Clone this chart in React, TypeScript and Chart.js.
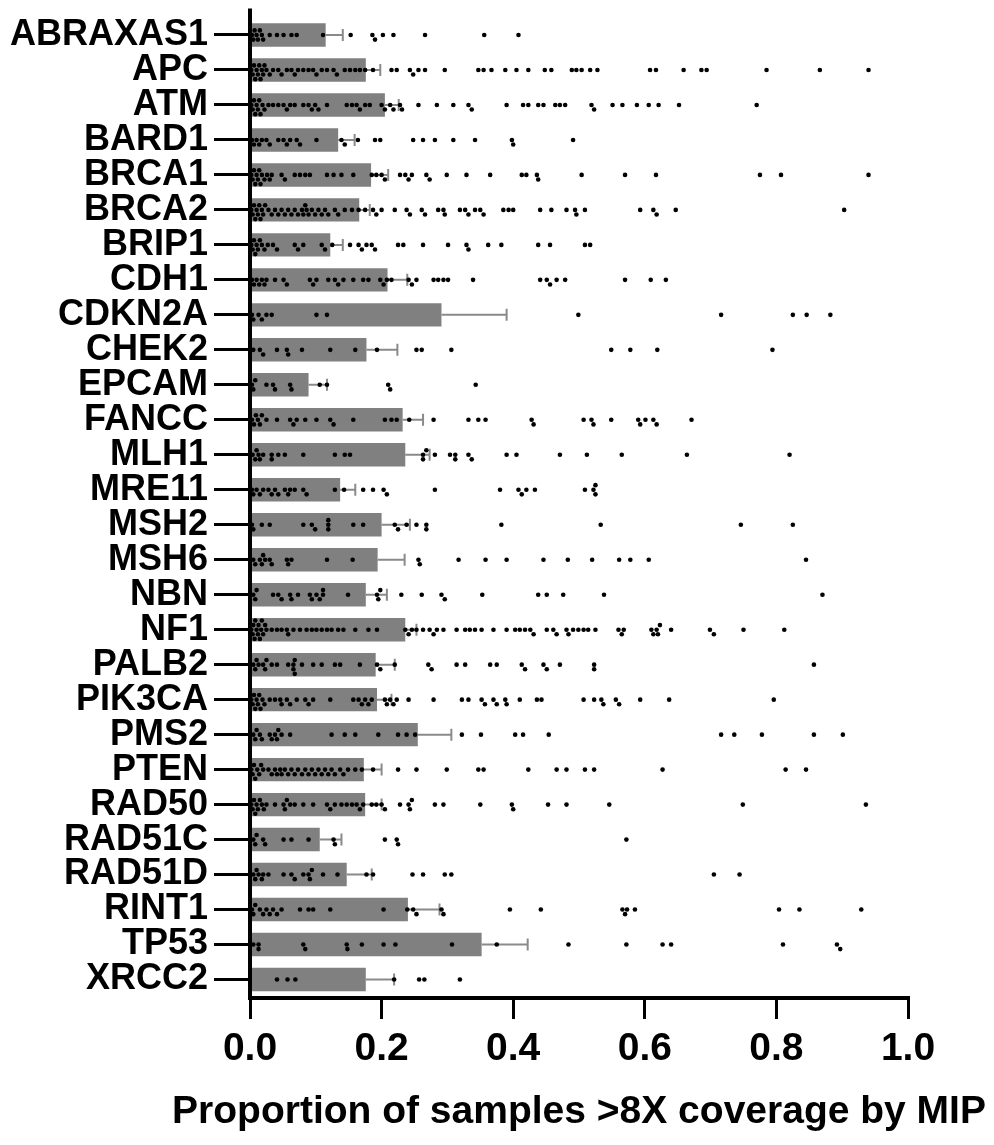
import React, { useEffect, useRef } from "react";
import { Chart, registerables } from "chart.js";

Chart.register(...registerables);

const genes = [
  "ABRAXAS1", "APC", "ATM", "BARD1", "BRCA1", "BRCA2", "BRIP1", "CDH1", "CDKN2A", "CHEK2",
  "EPCAM", "FANCC", "MLH1", "MRE11", "MSH2", "MSH6", "NBN", "NF1", "PALB2", "PIK3CA",
  "PMS2", "PTEN", "RAD50", "RAD51C", "RAD51D", "RINT1", "TP53", "XRCC2",
];

const means = [
  0.115, 0.176, 0.205, 0.134, 0.184, 0.166, 0.122, 0.209, 0.291, 0.177,
  0.089, 0.232, 0.236, 0.137, 0.2, 0.194, 0.176, 0.236, 0.191, 0.193,
  0.255, 0.173, 0.175, 0.106, 0.147, 0.24, 0.352, 0.176,
];

const sems = [
  0.026, 0.022, 0.021, 0.025, 0.026, 0.016, 0.019, 0.03, 0.099, 0.047,
  0.028, 0.031, 0.037, 0.023, 0.043, 0.041, 0.032, 0.017, 0.029, 0.022,
  0.051, 0.027, 0.025, 0.033, 0.038, 0.048, 0.07, 0.043,
];

const xTicks = [0, 0.2, 0.4, 0.6, 0.8, 1.0];
const xTitle = "Proportion of samples >8X coverage by MIP";

const dotsABRAXAS1 = [0.003, 0.005, 0.007, 0.01, 0.012, 0.015, 0.018, 0.02, 0.03, 0.041, 0.051, 0.063, 0.071, 0.111, 0.153, 0.186, 0.19, 0.202, 0.218, 0.266, 0.356, 0.408];
const dotsAPC = [0.002, 0.004, 0.006, 0.008, 0.01, 0.012, 0.014, 0.016, 0.018, 0.02, 0.022, 0.025, 0.03, 0.035, 0.043, 0.048, 0.056, 0.063, 0.068, 0.073, 0.081, 0.089, 0.096, 0.101, 0.109, 0.117, 0.127, 0.132, 0.144, 0.152, 0.16, 0.167, 0.175, 0.187, 0.215, 0.223, 0.243, 0.248, 0.256, 0.266, 0.296, 0.347, 0.355, 0.367, 0.388, 0.405, 0.423, 0.448, 0.458, 0.489, 0.496, 0.504, 0.517, 0.528, 0.608, 0.617, 0.659, 0.686, 0.694, 0.785, 0.866, 0.94];
const dotsATM = [0.002, 0.004, 0.006, 0.008, 0.01, 0.012, 0.014, 0.016, 0.019, 0.022, 0.028, 0.035, 0.043, 0.051, 0.056, 0.061, 0.068, 0.081, 0.089, 0.094, 0.099, 0.104, 0.117, 0.147, 0.155, 0.162, 0.167, 0.175, 0.182, 0.2, 0.205, 0.213, 0.218, 0.228, 0.231, 0.256, 0.284, 0.309, 0.332, 0.337, 0.39, 0.415, 0.423, 0.438, 0.446, 0.464, 0.471, 0.479, 0.519, 0.523, 0.551, 0.566, 0.588, 0.606, 0.621, 0.652, 0.77];
const dotsBARD1 = [0.003, 0.006, 0.01, 0.014, 0.018, 0.025, 0.03, 0.043, 0.051, 0.056, 0.061, 0.071, 0.076, 0.101, 0.139, 0.144, 0.164, 0.19, 0.198, 0.248, 0.263, 0.281, 0.309, 0.342, 0.398, 0.4, 0.491];
const dotsBRCA1 = [0.002, 0.004, 0.006, 0.008, 0.01, 0.012, 0.014, 0.016, 0.018, 0.022, 0.026, 0.03, 0.033, 0.048, 0.053, 0.068, 0.076, 0.084, 0.091, 0.117, 0.127, 0.139, 0.157, 0.185, 0.192, 0.2, 0.205, 0.228, 0.236, 0.241, 0.246, 0.268, 0.273, 0.299, 0.329, 0.365, 0.413, 0.42, 0.436, 0.438, 0.504, 0.57, 0.617, 0.775, 0.807, 0.94];
const dotsBRCA2 = [0.002, 0.004, 0.006, 0.008, 0.01, 0.012, 0.014, 0.016, 0.018, 0.02, 0.023, 0.028, 0.033, 0.038, 0.043, 0.048, 0.053, 0.058, 0.063, 0.068, 0.073, 0.079, 0.081, 0.084, 0.086, 0.089, 0.094, 0.099, 0.104, 0.109, 0.114, 0.119, 0.129, 0.134, 0.144, 0.155, 0.165, 0.175, 0.187, 0.192, 0.2, 0.22, 0.238, 0.243, 0.261, 0.266, 0.286, 0.294, 0.296, 0.319, 0.327, 0.332, 0.342, 0.35, 0.355, 0.385, 0.393, 0.4, 0.441, 0.458, 0.481, 0.494, 0.496, 0.509, 0.593, 0.613, 0.618, 0.647, 0.903];
const dotsBRIP1 = [0.002, 0.004, 0.006, 0.008, 0.01, 0.012, 0.015, 0.018, 0.022, 0.027, 0.035, 0.041, 0.068, 0.073, 0.081, 0.109, 0.114, 0.125, 0.152, 0.165, 0.17, 0.177, 0.185, 0.19, 0.225, 0.233, 0.263, 0.301, 0.329, 0.332, 0.362, 0.382, 0.438, 0.456, 0.509, 0.517];
const dotsCDH1 = [0.003, 0.006, 0.01, 0.014, 0.018, 0.022, 0.025, 0.038, 0.051, 0.056, 0.091, 0.096, 0.101, 0.119, 0.129, 0.134, 0.142, 0.157, 0.172, 0.18, 0.198, 0.203, 0.208, 0.215, 0.241, 0.246, 0.253, 0.279, 0.286, 0.294, 0.301, 0.339, 0.441, 0.451, 0.456, 0.466, 0.479, 0.57, 0.609, 0.632];
const dotsCDKN2A = [0.003, 0.005, 0.013, 0.018, 0.025, 0.033, 0.101, 0.117, 0.499, 0.716, 0.825, 0.846, 0.882];
const dotsCHEK2 = [0.005, 0.015, 0.02, 0.041, 0.056, 0.058, 0.079, 0.122, 0.16, 0.193, 0.253, 0.261, 0.306, 0.549, 0.578, 0.619, 0.794];
const dotsEPCAM = [0.003, 0.005, 0.008, 0.025, 0.035, 0.038, 0.061, 0.063, 0.106, 0.117, 0.21, 0.213, 0.343];
const dotsFANCC = [0.003, 0.006, 0.009, 0.012, 0.015, 0.018, 0.025, 0.041, 0.061, 0.066, 0.071, 0.084, 0.101, 0.122, 0.127, 0.157, 0.205, 0.215, 0.223, 0.242, 0.279, 0.332, 0.347, 0.358, 0.428, 0.431, 0.507, 0.519, 0.522, 0.549, 0.59, 0.593, 0.601, 0.613, 0.618, 0.671];
const dotsMLH1 = [0.004, 0.008, 0.01, 0.013, 0.015, 0.02, 0.033, 0.033, 0.043, 0.053, 0.081, 0.129, 0.144, 0.152, 0.263, 0.263, 0.268, 0.281, 0.304, 0.312, 0.312, 0.332, 0.337, 0.39, 0.405, 0.471, 0.512, 0.565, 0.664, 0.82];
const dotsMRE11 = [0.003, 0.005, 0.01, 0.015, 0.02, 0.028, 0.033, 0.038, 0.043, 0.053, 0.058, 0.061, 0.068, 0.081, 0.086, 0.129, 0.143, 0.172, 0.187, 0.203, 0.208, 0.281, 0.38, 0.408, 0.413, 0.42, 0.433, 0.509, 0.522, 0.525, 0.525];
const dotsMSH2 = [0.003, 0.005, 0.018, 0.03, 0.081, 0.094, 0.099, 0.119, 0.119, 0.119, 0.157, 0.172, 0.22, 0.225, 0.238, 0.253, 0.268, 0.268, 0.382, 0.533, 0.746, 0.825];
const dotsMSH6 = [0.005, 0.008, 0.015, 0.018, 0.02, 0.023, 0.03, 0.033, 0.056, 0.058, 0.063, 0.117, 0.156, 0.256, 0.258, 0.317, 0.358, 0.39, 0.446, 0.483, 0.52, 0.561, 0.578, 0.606, 0.845];
const dotsNBN = [0.005, 0.008, 0.01, 0.035, 0.043, 0.048, 0.061, 0.063, 0.073, 0.091, 0.094, 0.101, 0.106, 0.111, 0.111, 0.149, 0.193, 0.195, 0.198, 0.23, 0.261, 0.291, 0.296, 0.353, 0.438, 0.451, 0.476, 0.538, 0.87];
const dotsNF1 = [0.002, 0.004, 0.005, 0.007, 0.008, 0.01, 0.012, 0.013, 0.015, 0.017, 0.018, 0.02, 0.023, 0.025, 0.033, 0.041, 0.048, 0.056, 0.058, 0.066, 0.076, 0.086, 0.094, 0.101, 0.109, 0.117, 0.124, 0.134, 0.142, 0.16, 0.18, 0.193, 0.236, 0.241, 0.246, 0.253, 0.263, 0.273, 0.279, 0.284, 0.294, 0.314, 0.327, 0.334, 0.342, 0.352, 0.37, 0.39, 0.403, 0.41, 0.418, 0.426, 0.431, 0.451, 0.461, 0.466, 0.481, 0.484, 0.491, 0.499, 0.507, 0.514, 0.525, 0.56, 0.565, 0.568, 0.61, 0.613, 0.618, 0.62, 0.623, 0.64, 0.699, 0.705, 0.75, 0.812];
const dotsPALB2 = [0.005, 0.008, 0.01, 0.013, 0.02, 0.023, 0.025, 0.033, 0.041, 0.058, 0.066, 0.066, 0.068, 0.068, 0.079, 0.096, 0.109, 0.129, 0.137, 0.167, 0.193, 0.198, 0.22, 0.271, 0.276, 0.314, 0.327, 0.365, 0.375, 0.413, 0.418, 0.446, 0.451, 0.471, 0.523, 0.523, 0.857];
const dotsPIK3CA = [0.002, 0.004, 0.006, 0.008, 0.01, 0.012, 0.014, 0.016, 0.019, 0.022, 0.03, 0.038, 0.046, 0.048, 0.056, 0.061, 0.071, 0.084, 0.089, 0.096, 0.122, 0.157, 0.165, 0.17, 0.175, 0.18, 0.185, 0.205, 0.208, 0.213, 0.218, 0.223, 0.241, 0.279, 0.322, 0.332, 0.352, 0.357, 0.37, 0.375, 0.388, 0.39, 0.41, 0.436, 0.443, 0.507, 0.523, 0.534, 0.537, 0.556, 0.561, 0.593, 0.637, 0.796];
const dotsPMS2 = [0.005, 0.008, 0.01, 0.015, 0.018, 0.03, 0.033, 0.038, 0.041, 0.043, 0.048, 0.061, 0.124, 0.144, 0.16, 0.195, 0.225, 0.238, 0.251, 0.322, 0.351, 0.403, 0.415, 0.454, 0.716, 0.736, 0.778, 0.857, 0.901];
const dotsPTEN = [0.002, 0.004, 0.006, 0.008, 0.011, 0.014, 0.017, 0.02, 0.028, 0.033, 0.038, 0.041, 0.046, 0.048, 0.053, 0.058, 0.063, 0.068, 0.073, 0.079, 0.084, 0.089, 0.094, 0.099, 0.104, 0.109, 0.114, 0.119, 0.124, 0.129, 0.137, 0.142, 0.149, 0.16, 0.17, 0.187, 0.225, 0.253, 0.299, 0.347, 0.355, 0.423, 0.466, 0.481, 0.509, 0.523, 0.627, 0.814, 0.845];
const dotsRAD50 = [0.002, 0.004, 0.006, 0.008, 0.01, 0.012, 0.015, 0.018, 0.021, 0.025, 0.038, 0.051, 0.053, 0.056, 0.061, 0.068, 0.081, 0.096, 0.117, 0.122, 0.129, 0.139, 0.147, 0.155, 0.162, 0.167, 0.172, 0.185, 0.192, 0.2, 0.205, 0.228, 0.241, 0.243, 0.246, 0.281, 0.294, 0.35, 0.398, 0.4, 0.453, 0.481, 0.546, 0.749, 0.936];
const dotsRAD51C = [0.005, 0.008, 0.01, 0.02, 0.023, 0.051, 0.063, 0.089, 0.127, 0.129, 0.205, 0.223, 0.225, 0.572];
const dotsRAD51D = [0.005, 0.008, 0.01, 0.013, 0.018, 0.02, 0.028, 0.051, 0.063, 0.068, 0.081, 0.089, 0.091, 0.094, 0.111, 0.133, 0.177, 0.187, 0.247, 0.263, 0.296, 0.306, 0.705, 0.744];
const dotsRINT1 = [0.003, 0.005, 0.008, 0.015, 0.02, 0.025, 0.03, 0.035, 0.041, 0.048, 0.076, 0.089, 0.096, 0.122, 0.203, 0.239, 0.248, 0.253, 0.291, 0.294, 0.395, 0.442, 0.566, 0.57, 0.573, 0.585, 0.804, 0.835, 0.929];
const dotsTP53 = [0.005, 0.013, 0.013, 0.081, 0.084, 0.147, 0.148, 0.17, 0.203, 0.221, 0.307, 0.375, 0.484, 0.572, 0.627, 0.64, 0.81, 0.892, 0.897];
const dotsXRCC2 = [0.041, 0.057, 0.069, 0.219, 0.257, 0.265, 0.319];

const geneDots = [
  dotsABRAXAS1, dotsAPC, dotsATM, dotsBARD1, dotsBRCA1, dotsBRCA2, dotsBRIP1, dotsCDH1,
  dotsCDKN2A, dotsCHEK2, dotsEPCAM, dotsFANCC, dotsMLH1, dotsMRE11, dotsMSH2, dotsMSH6,
  dotsNBN, dotsNF1, dotsPALB2, dotsPIK3CA, dotsPMS2, dotsPTEN, dotsRAD50, dotsRAD51C,
  dotsRAD51D, dotsRINT1, dotsTP53, dotsXRCC2,
];

const FONT = "Arial, 'Liberation Sans', Helvetica, sans-serif";

// Beeswarm layout: vertical offset (in row units) so dots do not overlap.
function swarm(values: number[], row: number) {
  const pxPerX = 658;
  const pxPerRow = 35;
  const d = 4.6;
  const placed: { px: number; py: number }[] = [];
  const out: { x: number; y: number }[] = [];
  const sorted = [...values].sort((a, b) => a - b);
  for (const v of sorted) {
    const px = v * pxPerX;
    let chosen = 0;
    for (let k = 0; k < 16; k++) {
      const step = Math.ceil(k / 2) * (k % 2 === 1 ? 1 : -1);
      const py = step * d;
      const hit = placed.some((p) => {
        const dx = p.px - px;
        const dy = p.py - py;
        return dx * dx + dy * dy < d * d * 0.95;
      });
      if (!hit) {
        chosen = py;
        break;
      }
    }
    placed.push({ px, py: chosen });
    out.push({ x: v, y: row + chosen / pxPerRow });
  }
  return out;
}

const errorBarPlugin = {
  id: "errorBars",
  afterDatasetDraw(chart: any, args: any) {
    if (args.index !== 0) return;
    const { ctx } = chart;
    const xs = chart.scales.x;
    const ys = chart.scales.y;
    ctx.save();
    ctx.strokeStyle = "#8a8a8a";
    ctx.lineWidth = 2;
    means.forEach((m, i) => {
      const y = ys.getPixelForValue(i);
      const x0 = xs.getPixelForValue(m);
      const x1 = xs.getPixelForValue(m + sems[i]);
      ctx.beginPath();
      ctx.moveTo(x0, y);
      ctx.lineTo(x1, y);
      ctx.moveTo(x1, y - 6);
      ctx.lineTo(x1, y + 6);
      ctx.stroke();
    });
    ctx.restore();
  },
};

const axisLinePlugin = {
  id: "axisLines",
  afterDraw(chart: any) {
    const { ctx, chartArea } = chart;
    ctx.save();
    ctx.strokeStyle = "#000";
    ctx.lineWidth = 4;
    ctx.beginPath();
    ctx.moveTo(chartArea.left, chartArea.top - 9);
    ctx.lineTo(chartArea.left, chartArea.bottom + 3);
    ctx.moveTo(chartArea.left - 2, chartArea.bottom + 1);
    ctx.lineTo(chartArea.right + 2, chartArea.bottom + 1);
    ctx.stroke();
    ctx.fillStyle = "#000";
    ctx.font = `bold 39px ${FONT}`;
    ctx.textAlign = "center";
    ctx.textBaseline = "middle";
    ctx.fillText(xTitle, (chartArea.left + chartArea.right) / 2, 1112);
    ctx.restore();
  },
};

export default function App() {
  const canvasRef = useRef<HTMLCanvasElement | null>(null);

  useEffect(() => {
    document.body.style.margin = "0";
    const canvas = canvasRef.current;
    if (!canvas) return;
    const barData = means.map((m, i) => ({ x: m, y: i }));
    const scatterData = geneDots.flatMap((vals, i) => swarm(vals, i));

    const chart = new Chart(canvas, {
      type: "bar",
      data: {
        datasets: [
          {
            type: "bar",
            data: barData,
            backgroundColor: "#808080",
            borderWidth: 0,
            barPercentage: 0.67,
            categoryPercentage: 1,
            grouped: false,
            order: 2,
          } as any,
          {
            type: "scatter",
            data: scatterData,
            backgroundColor: "#000",
            borderWidth: 0,
            pointRadius: 2.3,
            order: 0,
          } as any,
        ],
      },
      options: {
        indexAxis: "y",
        responsive: false,
        animation: false,
        devicePixelRatio: 1,
        layout: { padding: { top: 17.5, right: 86, bottom: 0, left: 0 } },
        plugins: { legend: { display: false }, tooltip: { enabled: false } },
        scales: {
          x: {
            type: "linear",
            min: 0,
            max: 1,
            offset: false,
            afterBuildTicks: (scale: any) => {
              scale.ticks = xTicks.map((v) => ({ value: v }));
            },
            afterFit: (scale: any) => {
              scale.height = 148;
              scale.paddingLeft = 0;
              scale.paddingRight = 0;
            },
            border: { display: false },
            grid: {
              display: true,
              offset: false,
              drawOnChartArea: false,
              drawTicks: true,
              tickLength: 22,
              tickWidth: 3,
              tickColor: "#000",
            },
            ticks: {
              color: "#000",
              padding: 7,
              maxRotation: 0,
              font: { family: FONT, size: 39, weight: "bold" },
              callback: (v: any) => Number(v).toFixed(1),
            },
          },
          y: {
            type: "linear",
            position: "left",
            min: -0.5,
            max: genes.length - 0.5,
            reverse: true,
            offset: false,
            afterBuildTicks: (scale: any) => {
              scale.ticks = genes.map((_, i) => ({ value: i }));
            },
            afterFit: (scale: any) => {
              scale.width = 250;
              scale.paddingTop = 0;
              scale.paddingBottom = 0;
            },
            border: { display: false },
            grid: {
              display: true,
              offset: false,
              drawOnChartArea: false,
              drawTicks: true,
              tickLength: 36,
              tickWidth: 3,
              tickColor: "#000",
            },
            ticks: {
              color: "#000",
              padding: 6,
              autoSkip: false,
              font: { family: FONT, size: 36, weight: "bold", lineHeight: 1 },
              callback: (v: any) => genes[Math.round(Number(v))] ?? "",
            },
          },
        },
      } as any,
      plugins: [errorBarPlugin, axisLinePlugin],
    });
    return () => chart.destroy();
  }, []);

  return (
    <div style={{ width: 994, height: 1145 }}>
      <canvas ref={canvasRef} width={994} height={1145} style={{ display: "block" }} />
    </div>
  );
}
